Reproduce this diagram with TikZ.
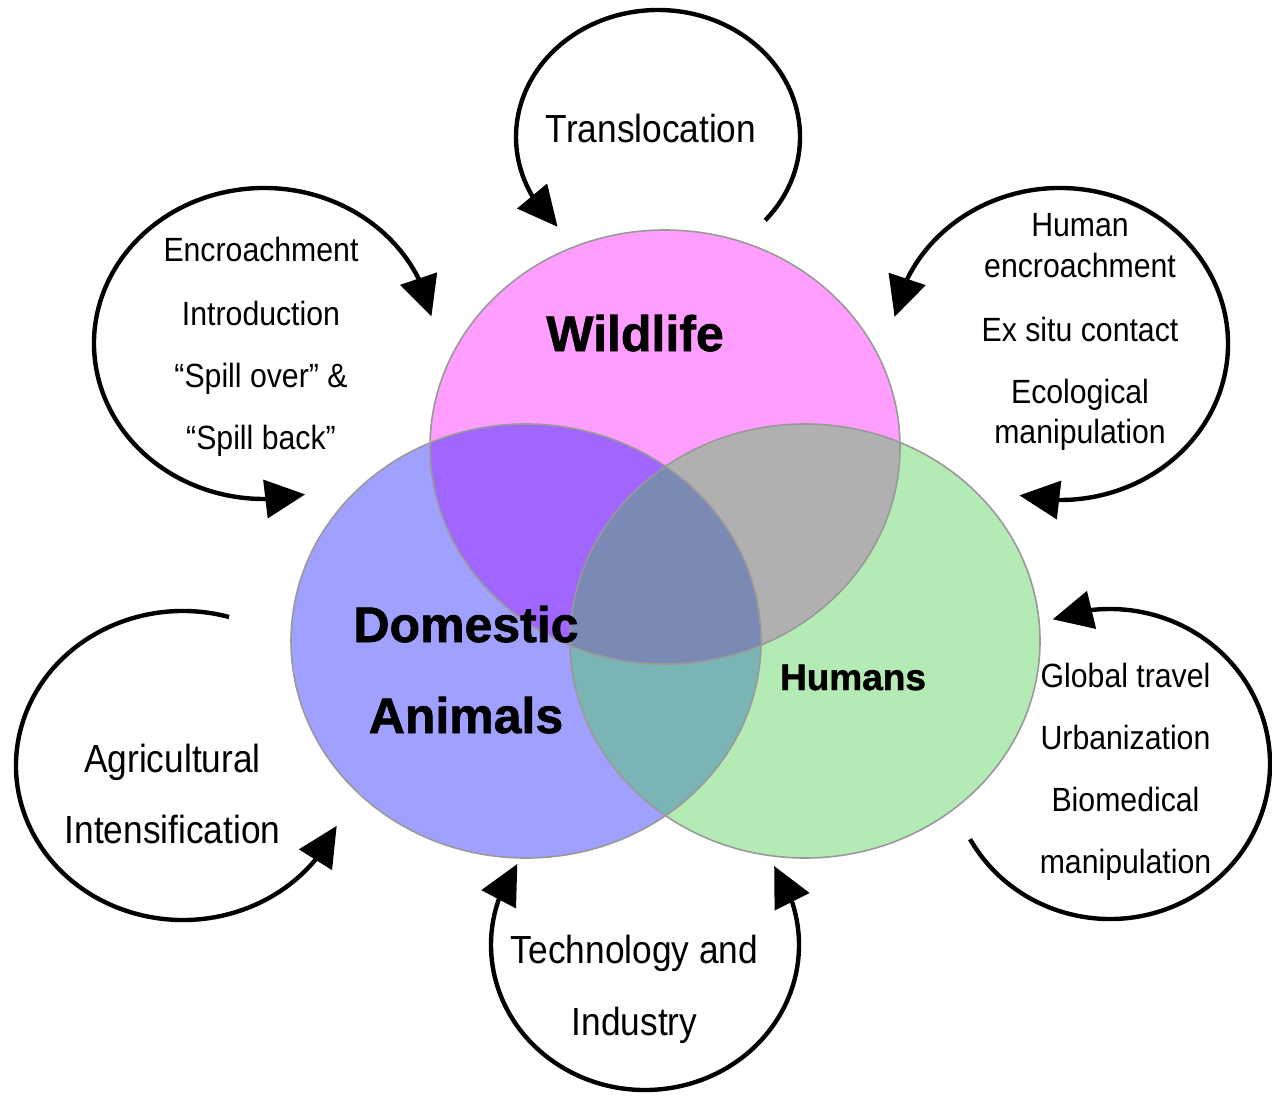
\documentclass[tikz,border=0pt]{standalone}
\usepackage{fontspec}
\setmainfont{Liberation Sans}
\newfontfamily\condfont[FakeStretch=0.9]{Liberation Sans}
\newfontfamily\heavyfont[UprightFont=* Bold, FakeBold=1.3]{Liberation Sans}
\usetikzlibrary{arrows.meta, bending}

\definecolor{wildpink}{HTML}{FF9EFF}
\definecolor{domblue}{HTML}{A0A0FF}
\definecolor{humgreen}{HTML}{B4EBB4}
\definecolor{wdpurple}{HTML}{A066FF}
\definecolor{whgray}{HTML}{B0B0B0}
\definecolor{dhteal}{HTML}{7AB4B4}
\definecolor{allslate}{HTML}{7A8AB4}
\definecolor{rimgray}{HTML}{999999}

\tikzset{
  turnarrow/.style={line width=2.2pt, >={Triangle[length=20pt,width=19pt,flex]}},
  vennrim/.style={draw=rimgray, line width=0.8pt},
  grouplabel/.style={font=\heavyfont\fontsize{25}{30}\selectfont, anchor=base},
  causebig/.style={font=\condfont\fontsize{19.6}{23}\selectfont, anchor=base},
  causesmall/.style={font=\condfont\fontsize{16.8}{20}\selectfont, anchor=base},
}

\begin{document}
\begin{tikzpicture}[x=0.5pt, y=0.5pt]
% Fix the page to the reference size
\useasboundingbox (0,0) rectangle (1272,-1096);

% Venn sizes
\pgfmathsetmacro{\rx}{235}
\pgfmathsetmacro{\ry}{217}
\coordinate (wild) at (665,-447);
\coordinate (dom) at (526,-641);
\coordinate (hum) at (805,-641);

% Plain fills
\fill[wildpink] (wild) ellipse [x radius=\rx, y radius=\ry];
\fill[domblue] (dom) ellipse [x radius=\rx, y radius=\ry];
\fill[humgreen] (hum) ellipse [x radius=\rx, y radius=\ry];
% Overlaps
\begin{scope}
\clip (dom) ellipse [x radius=\rx, y radius=\ry];
\fill[dhteal] (hum) ellipse [x radius=\rx, y radius=\ry];
\end{scope}
\begin{scope}
\clip (wild) ellipse [x radius=\rx, y radius=\ry];
\fill[wdpurple] (dom) ellipse [x radius=\rx, y radius=\ry];
\fill[whgray] (hum) ellipse [x radius=\rx, y radius=\ry];
\clip (dom) ellipse [x radius=\rx, y radius=\ry];
\fill[allslate] (hum) ellipse [x radius=\rx, y radius=\ry];
\end{scope}
% Rims
\draw[vennrim] (wild) ellipse [x radius=\rx, y radius=\ry];
\draw[vennrim] (dom) ellipse [x radius=\rx, y radius=\ry];
\draw[vennrim] (hum) ellipse [x radius=\rx, y radius=\ry];

% Group names
\node[grouplabel] (wildname) at (635,-351) {Wildlife};
\node[grouplabel] (domname) at (466,-642) {Domestic};
\node[grouplabel] (animname) at (466,-733) {Animals};
\node[grouplabel, font=\heavyfont\fontsize{18.5}{22}\selectfont] (humname) at (853,-690) {Humans};

% Top loop
\draw[turnarrow, ->, shift={(658,-137)}] (-41:142 and 127) arc[start angle=-41, end angle=225, x radius=142, y radius=127];
\node[causebig] (transl) at (651,-143) {Translocation};

% Upper left loop
\draw[turnarrow, <->, shift={(264,-343.5)}] (10:170 and 155.5) arc[start angle=10, end angle=284, x radius=170, y radius=155.5];
\node[causesmall] (encr) at (261,-262) {Encroachment};
\node[causesmall] (intro) at (261,-326) {Introduction};
\node[causesmall] (spillover) at (261,-387) {“Spill over” \&};
\node[causesmall] (spillback) at (261,-449) {“Spill back”};

% Upper right loop
\draw[turnarrow, <->, shift={(1060,-344)}] (170:168 and 156) arc[start angle=170, end angle=-104, x radius=168, y radius=156];
\node[causesmall] (human) at (1080,-237) {Human};
\node[causesmall] (hencr) at (1080,-278) {encroachment};
\node[causesmall] (exsitu) at (1080,-341) {Ex situ contact};
\node[causesmall] (ecol) at (1080,-403) {Ecological};
\node[causesmall] (ecolman) at (1080,-443) {manipulation};

% Lower left loop
\draw[turnarrow, ->, shift={(183,-765.5)}] (74:167 and 154.5) arc[start angle=74, end angle=337, x radius=167, y radius=154.5];
\node[causebig] (agri) at (172.5,-772) {Agricultural};
\node[causebig] (inten) at (172.5,-843) {Intensification};

% Bottom loop
\draw[turnarrow, <->, shift={(645,-945)}] (146:154 and 145) arc[start angle=146, end angle=393, x radius=154, y radius=145];
\node[causebig] (techn) at (634.5,-963) {Technology and};
\node[causebig] (indus) at (634.5,-1035) {Industry};

% Lower right loop
\draw[turnarrow, ->, shift={(1110,-764)}] (-151:160 and 155) arc[start angle=-151, end angle=111, x radius=160, y radius=155];
\node[causesmall] (travel) at (1125.5,-687) {Global travel};
\node[causesmall] (urban) at (1125.5,-749) {Urbanization};
\node[causesmall] (biomed) at (1125.5,-811) {Biomedical};
\node[causesmall] (bioman) at (1125.5,-873) {manipulation};

\end{tikzpicture}
\end{document}
